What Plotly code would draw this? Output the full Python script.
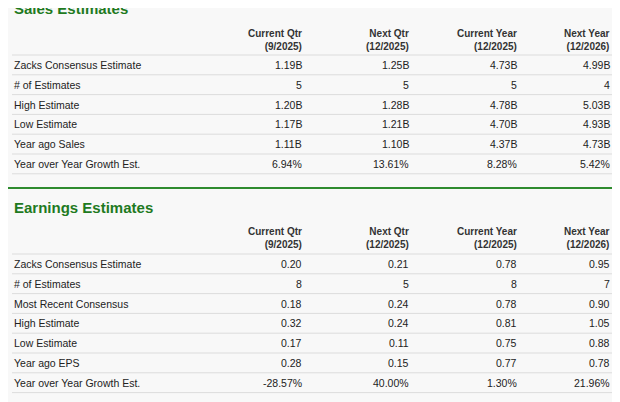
import plotly.graph_objects as go

col_heads = ["Current Qtr<br>(9/2025)", "Next Qtr<br>(12/2025)", "Current Year<br>(12/2025)", "Next Year<br>(12/2026)"]
sales_rows = ["Zacks Consensus Estimate", "# of Estimates", "High Estimate", "Low Estimate", "Year ago Sales", "Year over Year Growth Est."]
sales_vals = [["1.19B", "1.25B", "4.73B", "4.99B"], ["5", "5", "5", "4"], ["1.20B", "1.28B", "4.78B", "5.03B"],
              ["1.17B", "1.21B", "4.70B", "4.93B"], ["1.11B", "1.10B", "4.37B", "4.73B"], ["6.94%", "13.61%", "8.28%", "5.42%"]]
earn_rows = ["Zacks Consensus Estimate", "# of Estimates", "Most Recent Consensus", "High Estimate", "Low Estimate", "Year ago EPS", "Year over Year Growth Est."]
earn_vals = [["0.20", "0.21", "0.78", "0.95"], ["8", "5", "8", "7"], ["0.18", "0.24", "0.78", "0.90"], ["0.32", "0.24", "0.81", "1.05"],
             ["0.17", "0.11", "0.75", "0.88"], ["0.28", "0.15", "0.77", "0.78"], ["-28.57%", "40.00%", "1.30%", "21.96%"]]

FONT = "Liberation Sans, Arial"
GREEN = "#1f7a1f"
col_x = [304, 411, 519, 612]
fig = go.Figure()
ann, shapes = [], []

def section(title, title_y, head_y, row0, rows, vals):
    ann.append(dict(x=12, y=title_y, text="<b>%s</b>" % title, xanchor="left", yanchor="middle", showarrow=False,
                    font=dict(family=FONT, size=15, color=GREEN)))
    for cx, h in zip(col_x, col_heads):
        ann.append(dict(x=cx, y=head_y, text="<b>%s</b>" % h, xanchor="right", yanchor="middle", align="right",
                        showarrow=False, font=dict(family=FONT, size=10, color="#333")))
    for i, (r, v) in enumerate(zip(rows, vals)):
        y = row0 + 19.8 * i
        shapes.append(dict(type="line", x0=12, x1=612, y0=y - 10, y1=y - 10, line=dict(color="#dcdcdc", width=1)))
        ann.append(dict(x=12, y=y, text=r, xanchor="left", yanchor="middle", showarrow=False,
                        font=dict(family=FONT, size=10.5, color="#222")))
        for cx, t in zip(col_x, v):
            ann.append(dict(x=cx, y=y, text=t, xanchor="right", yanchor="middle", showarrow=False,
                            font=dict(family=FONT, size=10.5, color="#222")))
    shapes.append(dict(type="line", x0=12, x1=612, y0=row0 + 19.8 * len(rows) - 10, y1=row0 + 19.8 * len(rows) - 10,
                       line=dict(color="#dcdcdc", width=1)))

section("Sales Estimates", 8, 40, 65, sales_rows, sales_vals)
shapes.append(dict(type="line", x0=4, x1=620, y0=188, y1=188, line=dict(color="#2e8b2e", width=2)))
section("Earnings Estimates", 207, 238, 264, earn_rows, earn_vals)

# page body has an 8px margin: shift the coordinate ranges to compensate
fig.update_layout(width=620, height=402, margin=dict(l=0, r=0, t=0, b=0),
                  paper_bgcolor="#f8f8f8", plot_bgcolor="#f8f8f8",
                  xaxis=dict(range=[8, 628], visible=False, fixedrange=True),
                  yaxis=dict(range=[410, 8], visible=False, fixedrange=True),
                  annotations=ann, shapes=shapes, showlegend=False)
fig.write_html("out.html")
